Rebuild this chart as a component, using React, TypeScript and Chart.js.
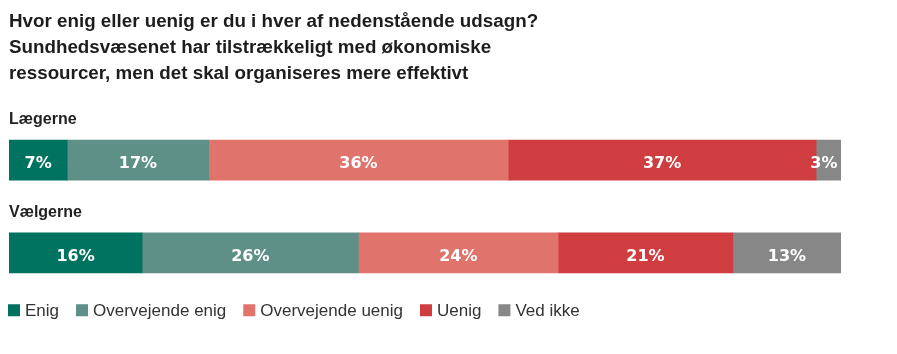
import React, { useEffect, useRef } from "react";
import { Chart, registerables } from "chart.js";

Chart.register(...registerables);

const TITLE_LINES = [
  "Hvor enig eller uenig er du i hver af nedenstående udsagn?",
  "Sundhedsvæsenet har tilstrækkeligt med økonomiske",
  "ressourcer, men det skal organiseres mere effektivt",
];
const CATEGORIES = ["Lægerne", "Vælgerne"];
const SERIES_NAMES = ["Enig", "Overvejende enig", "Overvejende uenig", "Uenig", "Ved ikke"];
const ENIG = [7, 16];
const OVERVEJENDE_ENIG = [17, 26];
const OVERVEJENDE_UENIG = [36, 24];
const UENIG = [37, 21];
const VED_IKKE = [3, 13];
const SERIES_COLORS = ["#007360", "#5e9087", "#e0736b", "#cf3d40", "#878787"];

const SERIES_VALUES = [ENIG, OVERVEJENDE_ENIG, OVERVEJENDE_UENIG, UENIG, VED_IKKE];

const categoryLabelPlugin = {
  id: "categoryLabels",
  afterDatasetsDraw(chart: any) {
    const { ctx, chartArea, scales } = chart;
    const y = scales.y;
    ctx.save();
    ctx.font = "bold 16px 'Liberation Sans', Arial, sans-serif";
    ctx.fillStyle = "#222222";
    ctx.textAlign = "left";
    ctx.textBaseline = "alphabetic";
    chart.data.labels.forEach((lab: string, i: number) => {
      const cy = y.getPixelForValue(i);
      ctx.fillText(lab, chartArea.left, cy - 36);
    });
    ctx.restore();
  },
};

const valueLabelPlugin = {
  id: "valueLabels",
  afterDatasetsDraw(chart: any) {
    const { ctx, chartArea } = chart;
    ctx.save();
    ctx.font = "bold 16px 'DejaVu Sans', sans-serif";
    ctx.fillStyle = "#ffffff";
    ctx.textAlign = "center";
    ctx.textBaseline = "alphabetic";
    chart.data.datasets.forEach((ds: any, di: number) => {
      const meta = chart.getDatasetMeta(di);
      meta.data.forEach((el: any, i: number) => {
        const { x, y, base } = el.getProps(["x", "y", "base"], true);
        const text = ds.data[i] + "%";
        const w = ctx.measureText(text).width;
        let cx = (x + base) / 2;
        cx = Math.min(cx, chartArea.right - 3.5 - w / 2);
        ctx.fillText(text, cx, y + 8);
      });
    });
    ctx.restore();
  },
};

const legendPlugin = {
  id: "customLegend",
  afterDraw(chart: any) {
    const { ctx, chartArea } = chart;
    ctx.save();
    ctx.font = "17px 'Liberation Sans', Arial, sans-serif";
    ctx.textAlign = "left";
    ctx.textBaseline = "middle";
    const cy = chartArea.bottom + 11;
    let x = chartArea.left - 1;
    chart.data.datasets.forEach((ds: any) => {
      ctx.fillStyle = ds.backgroundColor;
      ctx.fillRect(x, cy - 6, 12, 12);
      ctx.fillStyle = "#333333";
      ctx.fillText(ds.label, x + 17, cy + 1);
      x += 17 + ctx.measureText(ds.label).width + 17;
    });
    ctx.restore();
  },
};

export default function App() {
  const canvasRef = useRef<HTMLCanvasElement | null>(null);

  useEffect(() => {
    if (!canvasRef.current) return;
    const chart = new Chart(canvasRef.current, {
      type: "bar",
      data: {
        labels: CATEGORIES,
        datasets: SERIES_NAMES.map((name, i) => ({
          label: name,
          data: SERIES_VALUES[i],
          backgroundColor: SERIES_COLORS[i],
          borderWidth: 0,
          barThickness: 40,
        })),
      },
      options: {
        indexAxis: "y",
        animation: false,
        responsive: true,
        maintainAspectRatio: false,
        layout: { padding: { left: 9, right: 56, top: 0, bottom: 54.75 } },
        scales: {
          x: { type: "linear", min: 0, max: 100, stacked: true, display: false },
          y: { type: "category", stacked: true, display: false, offset: true },
        },
        plugins: {
          legend: { display: false },
          tooltip: { enabled: false },
          title: {
            display: true,
            text: TITLE_LINES,
            align: "start",
            color: "#1d1d1d",
            font: { family: "'Liberation Sans', Arial, sans-serif", size: 18.8, weight: "bold", lineHeight: 26 / 18.8 },
            padding: { top: 8.5, bottom: 27.35 },
          },
        },
      },
      plugins: [categoryLabelPlugin, valueLabelPlugin, legendPlugin],
    } as any);
    return () => chart.destroy();
  }, []);

  return (
    <div style={{ position: "absolute", left: 0, top: 0, width: 897, height: 354, background: "#ffffff" }}>
      <canvas ref={canvasRef} />
    </div>
  );
}
